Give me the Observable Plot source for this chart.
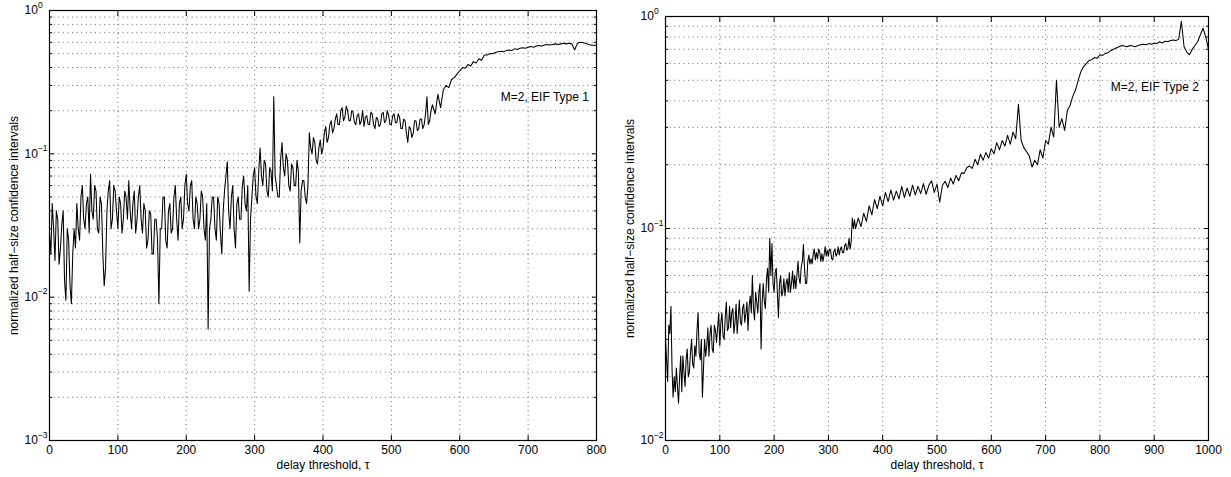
<!DOCTYPE html>
<html>
<head>
<meta charset="utf-8">
<script src="https://cdn.jsdelivr.net/npm/d3@7"></script>
<script src="https://cdn.jsdelivr.net/npm/@observablehq/plot@0.6"></script>
<style>
  html, body { margin: 0; padding: 0; background: #fff; }
  #wrap { position: relative; width: 1231px; height: 477px; overflow: hidden; }
  .panel { position: absolute; top: 0; }
</style>
</head>
<body>
<div id="wrap">
  <div id="left" class="panel" style="left:0px"></div>
  <div id="right" class="panel" style="left:610px"></div>
</div>
<script>
// ---------- data ----------
const xLabel = "delay threshold, \u03c4";
const yLabel = "normalized half\u2212size confidence intervals";

// ----- left panel: M=2, EIF Type 1 -----
const leftTitle = "M=2, EIF Type 1";
const leftXTicks = [0, 100, 200, 300, 400, 500, 600, 700, 800];
const leftDecades = [1e-3, 1e-2, 1e-1, 1];
// tau = 0..558, step 2
const leftNoisyStart = 0, leftNoisyStep = 2;
const leftNoisy = [
  0.028,0.02,0.045,0.03,0.018,0.04,0.035,0.017,0.022,0.032,
  0.04,0.013,0.0095,0.03,0.025,0.012,0.009,0.02,0.03,0.022,
  0.045,0.03,0.025,0.05,0.06,0.035,0.03,0.045,0.05,0.028,
  0.072,0.04,0.035,0.06,0.055,0.03,0.028,0.05,0.045,0.02,
  0.012,0.016,0.04,0.055,0.065,0.03,0.035,0.06,0.055,0.04,
  0.03,0.05,0.045,0.028,0.035,0.055,0.05,0.035,0.065,0.04,
  0.03,0.045,0.055,0.028,0.035,0.05,0.06,0.035,0.028,0.045,
  0.04,0.022,0.025,0.04,0.038,0.02,0.02,0.035,0.035,0.025,
  0.009,0.03,0.03,0.05,0.05,0.025,0.022,0.04,0.045,0.028,
  0.03,0.05,0.06,0.035,0.025,0.045,0.05,0.03,0.035,0.06,
  0.072,0.045,0.04,0.06,0.065,0.035,0.03,0.05,0.045,0.03,
  0.035,0.055,0.05,0.03,0.025,0.045,0.006,0.03,0.035,0.05,
  0.05,0.03,0.025,0.05,0.045,0.028,0.02,0.04,0.055,0.07,
  0.088,0.04,0.03,0.05,0.06,0.03,0.022,0.045,0.05,0.035,
  0.035,0.06,0.07,0.045,0.04,0.06,0.011,0.035,0.05,0.07,
  0.08,0.05,0.045,0.075,0.11,0.07,0.06,0.09,0.085,0.055,
  0.05,0.08,0.075,0.055,0.25,0.07,0.06,0.05,0.05,0.09,
  0.12,0.08,0.07,0.1,0.09,0.06,0.055,0.085,0.08,0.06,
  0.06,0.09,0.075,0.024,0.055,0.065,0.065,0.05,0.045,0.06,
  0.14,0.11,0.1,0.13,0.12,0.09,0.085,0.11,0.125,0.1,
  0.11,0.14,0.155,0.12,0.13,0.16,0.17,0.14,0.15,0.175,
  0.19,0.16,0.16,0.2,0.21,0.17,0.18,0.215,0.2,0.17,
  0.17,0.2,0.195,0.165,0.16,0.185,0.19,0.16,0.17,0.2,
  0.155,0.18,0.185,0.16,0.16,0.195,0.19,0.16,0.15,0.18,
  0.175,0.155,0.16,0.19,0.195,0.165,0.17,0.2,0.185,0.16,
  0.16,0.185,0.19,0.165,0.165,0.19,0.18,0.15,0.15,0.175,
  0.17,0.14,0.12,0.155,0.15,0.13,0.14,0.17,0.17,0.145,
  0.15,0.175,0.175,0.15,0.16,0.19,0.25,0.16,0.17,0.2
];
// tau = 560..800, step 4
const leftUpperStart = 560, leftUpperStep = 4;
const leftUpper = [
  0.22,0.19,0.26,0.21,0.28,0.3,0.29,0.33,0.34,0.36,
  0.38,0.4,0.395,0.42,0.41,0.44,0.43,0.46,0.45,0.49,
  0.49,0.5,0.5,0.51,0.515,0.52,0.515,0.525,0.53,0.525,
  0.54,0.535,0.545,0.55,0.545,0.555,0.56,0.555,0.565,0.57,
  0.565,0.575,0.58,0.575,0.58,0.585,0.58,0.585,0.59,0.585,
  0.59,0.585,0.53,0.59,0.6,0.595,0.59,0.58,0.575,0.57,
  0.575
];

// ----- right panel: M=2, EIF Type 2 -----
const rightTitle = "M=2, EIF Type 2";
const rightXTicks = [0, 100, 200, 300, 400, 500, 600, 700, 800, 900, 1000];
const rightDecades = [1e-2, 1e-1, 1];
// tau = 0..348, step 2
const rightNoisyStart = 0, rightNoisyStep = 2;
const rightNoisy = [
  0.03,0.024,0.019,0.035,0.032,0.043,0.022,0.016,0.02,0.017,
  0.022,0.018,0.015,0.02,0.025,0.017,0.025,0.021,0.018,0.024,
  0.027,0.02,0.021,0.026,0.03,0.023,0.022,0.028,0.025,0.033,
  0.04,0.026,0.024,0.03,0.016,0.022,0.03,0.025,0.028,0.034,
  0.025,0.032,0.035,0.027,0.026,0.035,0.033,0.029,0.034,0.04,
  0.028,0.036,0.04,0.031,0.03,0.038,0.045,0.033,0.034,0.043,
  0.034,0.04,0.042,0.032,0.036,0.044,0.032,0.038,0.046,0.036,
  0.035,0.042,0.044,0.036,0.04,0.045,0.033,0.043,0.048,0.04,
  0.06,0.042,0.037,0.05,0.045,0.04,0.05,0.055,0.027,0.045,
  0.055,0.045,0.042,0.058,0.065,0.05,0.09,0.06,0.085,0.055,
  0.05,0.062,0.065,0.05,0.038,0.055,0.06,0.048,0.05,0.058,
  0.048,0.055,0.058,0.05,0.062,0.05,0.055,0.063,0.052,0.06,
  0.052,0.06,0.07,0.058,0.055,0.066,0.07,0.084,0.065,0.055,
  0.055,0.07,0.075,0.068,0.072,0.068,0.076,0.08,0.071,0.077,
  0.072,0.08,0.078,0.07,0.076,0.07,0.075,0.082,0.074,0.079,
  0.074,0.08,0.079,0.072,0.071,0.078,0.08,0.074,0.076,0.082,
  0.075,0.08,0.082,0.077,0.077,0.083,0.085,0.079,0.081,0.09,
  0.08,0.087,0.112,0.1,0.11
];
// tau = 350..1000, step 5
const rightUpperStart = 350, rightUpperStep = 5;
const rightUpper = [
  0.1,0.112,0.102,0.118,0.108,0.128,0.116,0.137,0.124,0.142,
  0.128,0.148,0.134,0.152,0.136,0.15,0.138,0.158,0.14,0.155,
  0.142,0.16,0.144,0.158,0.146,0.163,0.145,0.16,0.168,0.148,
  0.162,0.133,0.16,0.167,0.156,0.173,0.162,0.178,0.168,0.183,
  0.182,0.194,0.197,0.192,0.212,0.2,0.224,0.21,0.228,0.215,
  0.238,0.225,0.254,0.235,0.26,0.245,0.275,0.25,0.285,0.265,
  0.385,0.26,0.24,0.23,0.22,0.195,0.21,0.2,0.235,0.215,
  0.26,0.25,0.3,0.27,0.5,0.3,0.33,0.29,0.36,0.38,
  0.42,0.45,0.5,0.55,0.58,0.6,0.62,0.625,0.64,0.635,
  0.66,0.655,0.67,0.675,0.69,0.7,0.71,0.72,0.73,0.725,
  0.72,0.73,0.725,0.72,0.73,0.735,0.74,0.735,0.745,0.74,
  0.75,0.745,0.76,0.75,0.765,0.76,0.77,0.775,0.77,0.78,
  0.95,0.72,0.68,0.66,0.7,0.73,0.76,0.82,0.88,0.8,
  0.7
];

// annotation anchor positions (data coords)
const leftNote = {x: 660, y: 0.248};
const rightNote = {x: 820, y: 0.462};

// ---------- drawing ----------
const FONT = "'Liberation Sans', Arial, Helvetica, sans-serif";
const expText = d => { const e = Math.round(Math.log10(d)); return e < 0 ? "\u2212" + (-e) : String(e); };
const toRows = (start, step, vals) => vals.map((v, i) => ({tau: start + i * step, v}));

function panel({data, xTicks, decades, note, title, width, mL, mR, mT, mB}) {
  const minors = [];
  for (let i = 0; i < decades.length - 1; i++) for (let k = 2; k <= 9; k++) minors.push(decades[i] * k);
  const gridStyle = {stroke: "#000", strokeOpacity: 0.65, strokeDasharray: "1,3.6", strokeWidth: 0.9};
  const blank = () => "";
  return Plot.plot({
    width, height: 477,
    marginLeft: mL, marginRight: mR, marginTop: mT, marginBottom: mB,
    style: {fontFamily: FONT, fontSize: "12px", color: "#000", background: "#fff", overflow: "visible"},
    x: {domain: [xTicks[0], xTicks[xTicks.length - 1]]},
    y: {type: "log", domain: [decades[0], decades[decades.length - 1]]},
    marks: [
      Plot.gridX(xTicks.slice(1, -1), gridStyle),
      Plot.gridY(minors.concat(decades.slice(1, -1)), gridStyle),
      Plot.line(data, {x: "tau", y: "v", stroke: "#000", strokeWidth: 1.05}),
      // inward ticks on all four sides
      Plot.axisX(xTicks, {anchor: "bottom", tickSize: -5, tickFormat: blank, label: null}),
      Plot.axisX(xTicks, {anchor: "top", tickSize: -5, tickFormat: blank, label: null}),
      Plot.axisY(decades, {anchor: "left", tickSize: -5, tickFormat: blank, label: null}),
      Plot.axisY(decades, {anchor: "right", tickSize: -5, tickFormat: blank, label: null}),
      Plot.axisY(minors, {anchor: "left", tickSize: -3, tickFormat: blank, label: null}),
      Plot.axisY(minors, {anchor: "right", tickSize: -3, tickFormat: blank, label: null}),
      // x tick labels
      Plot.axisX(xTicks, {anchor: "bottom", tickSize: 0, tickPadding: 5, tickFormat: d => String(d), label: null, fontSize: 12}),
      // y tick labels 10^e
      Plot.text(decades, {y: d => d, text: () => "10", frameAnchor: "left", dx: -25, textAnchor: "start", lineAnchor: "middle", fontSize: 12}),
      Plot.text(decades, {y: d => d, text: expText, frameAnchor: "left", dx: -11.6, dy: -5.5, textAnchor: "start", lineAnchor: "middle", fontSize: 8.5}),
      // axis titles
      Plot.text([xLabel], {text: d => d, frameAnchor: "bottom", dy: 28, lineAnchor: "bottom", fontSize: 12}),
      Plot.text([yLabel], {text: d => d, frameAnchor: "left", dx: -32, rotate: -90, textAnchor: "middle", lineAnchor: "bottom", fontSize: 12}),
      // annotation
      Plot.text([note], {x: "x", y: "y", text: () => title, textAnchor: "start", lineAnchor: "middle", fontSize: 12}),
      Plot.frame({stroke: "#000", strokeWidth: 1.2})
    ]
  });
}

const leftData = toRows(leftNoisyStart, leftNoisyStep, leftNoisy).concat(toRows(leftUpperStart, leftUpperStep, leftUpper));
const rightData = toRows(rightNoisyStart, rightNoisyStep, rightNoisy).concat(toRows(rightUpperStart, rightUpperStep, rightUpper));

document.getElementById("left").appendChild(panel({
  data: leftData, xTicks: leftXTicks, decades: leftDecades,
  note: leftNote, title: leftTitle, width: 610, mL: 49, mR: 14, mT: 10, mB: 37
}));
document.getElementById("right").appendChild(panel({
  data: rightData, xTicks: rightXTicks, decades: rightDecades,
  note: rightNote, title: rightTitle, width: 621, mL: 55, mR: 23, mT: 16, mB: 37
}));
</script>
</body>
</html>
